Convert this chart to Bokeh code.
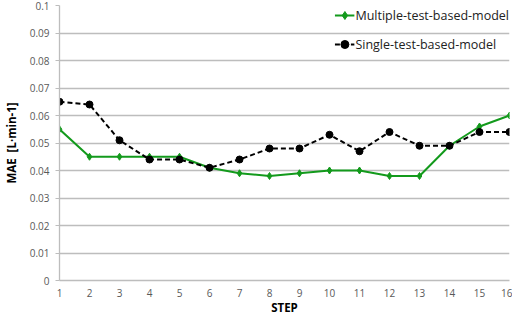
from bokeh.plotting import figure
from bokeh.models import Range1d, FixedTicker, Legend, LegendItem
from bokeh.embed import file_html
from bokeh.resources import INLINE

steps = list(range(1, 17))
multiple = [0.055, 0.045, 0.045, 0.045, 0.045, 0.041, 0.039, 0.038, 0.039, 0.040, 0.040, 0.038, 0.038, 0.049, 0.056, 0.060]
single = [0.065, 0.064, 0.051, 0.044, 0.044, 0.041, 0.044, 0.048, 0.048, 0.053, 0.047, 0.054, 0.049, 0.049, 0.054, 0.054]
y_ticks = [0, 0.01, 0.02, 0.03, 0.04, 0.05, 0.06, 0.07, 0.08, 0.09, 0.1]
y_labels = {0: "0", 0.01: "0.01", 0.02: "0.02", 0.03: "0.03", 0.04: "0.04", 0.05: "0.05",
            0.06: "0.06", 0.07: "0.07", 0.08: "0.08", 0.09: "0.09", 0.1: "0.1"}

FONT = "Open Sans"
GREEN = "#139A1C"

p = figure(width=512, height=317, output_backend="svg", toolbar_location=None,
           x_range=Range1d(1, 16), y_range=Range1d(0, 0.1),
           min_border_left=57, min_border_right=3, min_border_top=5, min_border_bottom=30)
p.outline_line_color = None
p.background_fill_color = "white"
p.border_fill_color = "white"

p.xaxis.ticker = FixedTicker(ticks=steps)
p.yaxis.ticker = FixedTicker(ticks=y_ticks)
p.yaxis.major_label_overrides = y_labels
p.xgrid.grid_line_color = None
p.ygrid.grid_line_color = "#BDBDBD"
p.ygrid.grid_line_width = 1.3

for ax in (p.xaxis, p.yaxis):
    ax.axis_line_color = "#BDBDBD"
    ax.axis_line_width = 1.3
    ax.minor_tick_line_color = None
    ax.major_label_text_font = FONT
    ax.major_label_text_font_size = "10px"
    ax.major_label_text_color = "#595959"
    ax.axis_label_text_font = FONT
    ax.axis_label_text_font_style = "bold"
    ax.axis_label_text_font_size = "11.5px"
    ax.axis_label_text_color = "black"

p.xaxis.major_tick_line_color = None
p.xaxis.major_tick_out = 0
p.xaxis.major_tick_in = 0
p.xaxis.major_label_standoff = 8
p.xaxis.axis_label = "STEP"
p.xaxis.axis_label_standoff = 0
p.yaxis.major_tick_line_color = "#BDBDBD"
p.yaxis.major_tick_out = 4
p.yaxis.major_tick_in = 0
p.yaxis.major_label_standoff = 6
p.yaxis.axis_label = "MAE\u00a0\u00a0[L·min-1]"
p.yaxis.axis_label_standoff = 8

l1 = p.line(steps, multiple, line_color=GREEN, line_width=2)
m1 = p.scatter(steps, multiple, marker="diamond", size=7, fill_color=GREEN, line_color=GREEN)
l2 = p.line(steps, single, line_color="black", line_width=2, line_dash="5 3")
m2 = p.scatter(steps, single, marker="circle", size=7, fill_color="black", line_color="black")

legend = Legend(items=[LegendItem(label="Multiple-test-based-model", renderers=[l1, m1]),
                       LegendItem(label="Single-test-based-model", renderers=[l2, m2])],
                location="top_right")
legend.background_fill_alpha = 0
legend.border_line_color = None
legend.label_text_font = FONT
legend.label_text_font_size = "12.5px"
legend.label_text_color = "#222222"
legend.glyph_width = 20
legend.label_standoff = 1
legend.spacing = 9
legend.margin = 0
legend.padding = 8
p.add_layout(legend)

open("out.html", "w").write(file_html(p, INLINE))
